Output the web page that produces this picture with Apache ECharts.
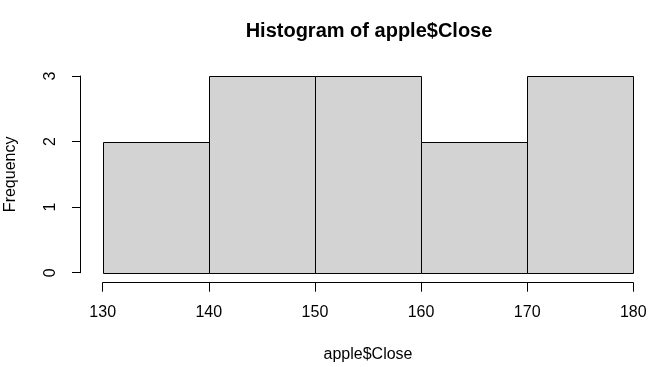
<!DOCTYPE html>
<html>
<head>
<meta charset="utf-8">
<script src="https://cdn.jsdelivr.net/npm/echarts@6/dist/echarts.min.js"></script>
<style>html,body{margin:0;padding:0;background:#fff;}#c{width:663px;height:367px;}</style>
</head>
<body>
<div id="c"></div>
<script>
var breaks = [130, 140, 150, 160, 170, 180];
var counts = [2, 3, 3, 2, 3];
var yTicks = [0, 1, 2, 3];
var titleText = 'Histogram of apple$Close';
var xLabel = 'apple$Close';
var yLabel = 'Frequency';

var binData = counts.map(function (c, i) { return [breaks[i], breaks[i + 1], c]; });

var chart = echarts.init(document.getElementById('c'), null, {renderer: 'canvas'});
var font = 'Liberation Sans, Arial, sans-serif';
chart.setOption({
  animation: false,
  title: {
    text: titleText, left: 364, top: 16, textAlign: 'center',
    textStyle: {fontFamily: font, fontSize: 20, fontWeight: 'bold', color: '#000'}
  },
  grid: {left: 102.7, top: 76, width: 530.6, height: 196.7, containLabel: false, outerBoundsMode: 'none'},
  xAxis: {
    type: 'value', min: breaks[0], max: breaks[breaks.length - 1], interval: 10,
    offset: 10,
    name: xLabel, nameLocation: 'middle', nameGap: 64,
    nameTextStyle: {fontFamily: font, fontSize: 16, color: '#000'},
    axisLine: {show: true, onZero: false, lineStyle: {color: '#000', width: 1}},
    axisTick: {show: true, length: 9, lineStyle: {color: '#000'}},
    axisLabel: {margin: 22, fontFamily: font, fontSize: 16, color: '#000'},
    splitLine: {show: false}
  },
  yAxis: {
    type: 'value', min: yTicks[0], max: yTicks[yTicks.length - 1], interval: 1,
    offset: 22.7,
    name: yLabel, nameLocation: 'middle', nameGap: 61,
    nameTextStyle: {fontFamily: font, fontSize: 16, color: '#000'},
    axisLine: {show: true, onZero: false, lineStyle: {color: '#000', width: 1}},
    axisTick: {show: true, length: 8, lineStyle: {color: '#000'}},
    axisLabel: {rotate: 90, margin: 21, fontFamily: font, fontSize: 16, color: '#000'},
    splitLine: {show: false}
  },
  series: [{
    type: 'custom',
    data: binData,
    encode: {x: [0, 1], y: 2},
    renderItem: function (params, api) {
      var p0 = api.coord([api.value(0), 0]);
      var p1 = api.coord([api.value(1), api.value(2)]);
      return {
        type: 'rect',
        shape: {x: Math.round(p0[0]) + 0.5, y: Math.round(p1[1]) + 0.5,
                width: Math.round(p1[0]) - Math.round(p0[0]),
                height: Math.round(p0[1]) - Math.round(p1[1])},
        style: {fill: '#d3d3d3', stroke: '#000', lineWidth: 1}
      };
    }
  }]
});
</script>
</body>
</html>
